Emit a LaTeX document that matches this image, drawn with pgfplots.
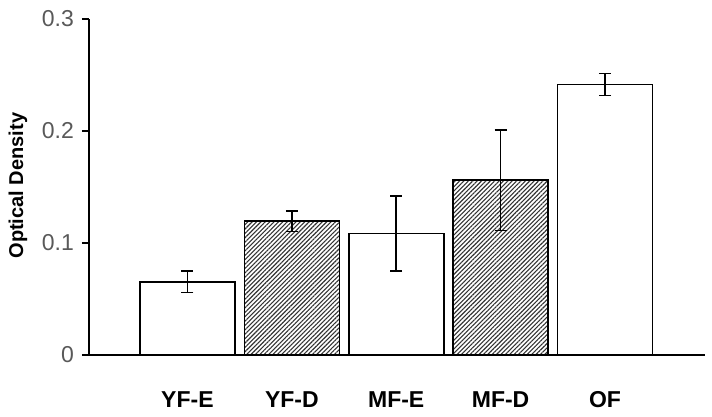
\documentclass[border=0pt]{standalone}
\usepackage{fontspec}
\setmainfont{Liberation Sans}
\usepackage{pgfplots}
\pgfplotsset{compat=1.18}
\usetikzlibrary{patterns.meta}

\begin{document}
\begin{tikzpicture}
\begin{axis}[
  name=ax, at={(0,0)}, anchor=south west,
  scale only axis, width=616bp, height=336bp,
  xmin=-0.943, xmax=4.958, ymin=0, ymax=0.3,
  axis lines=left,
  axis line style={line width=1.6bp, -},
  xtick={0,1,2,3,4},
  xticklabels={YF-E,YF-D,MF-E,MF-D,OF},
  ytick={0,0.1,0.2,0.3},
  yticklabels={0,0.1,0.2,0.3},
  tick align=outside,
  major tick length=7bp,
  xtick style={draw=none},
  ytick style={line width=1.6bp, black},
  xticklabel style={font=\bfseries\fontsize{23bp}{26bp}\selectfont, anchor=base, yshift=-45bp},
  yticklabel style={font=\fontsize{23bp}{26bp}\selectfont, text=black!65, inner sep=2bp, xshift=-6bp},
  ylabel={Optical Density},
  ylabel style={font=\bfseries\fontsize{20bp}{22bp}\selectfont, at={(axis description cs:0,0.504)}, anchor=center, rotate=0, yshift=71bp},
  ybar, bar width=0.91, bar shift=0pt,
  clip=false,
]
\addplot[draw=black, line width=1.6bp, fill=white,
  error bars/.cd, y dir=both, y explicit,
  error bar style={line width=1.6bp, black},
  error mark options={rotate=90, mark size=6bp, line width=1.6bp, black}]
  coordinates {
    (0,0.0654) +- (0,0.0095)
    (2,0.1085) +- (0,0.0335)
    (4,0.2415) +- (0,0.0098)
  };
\addplot[draw=black, line width=1.6bp,
  pattern={Lines[angle=45, distance=3.1bp, line width=1.1bp]}, pattern color=black!80,
  error bars/.cd, y dir=both, y explicit,
  error bar style={line width=1.6bp, black},
  error mark options={rotate=90, mark size=6bp, line width=1.6bp, black}]
  coordinates {
    (1,0.1195) +- (0,0.0093)
    (3,0.1560) +- (0,0.0450)
  };
\end{axis}
\pgfresetboundingbox
\useasboundingbox ([shift={(-89bp,-62bp)}]ax.south west) rectangle ++(712bp,417bp);
\end{tikzpicture}
\end{document}
